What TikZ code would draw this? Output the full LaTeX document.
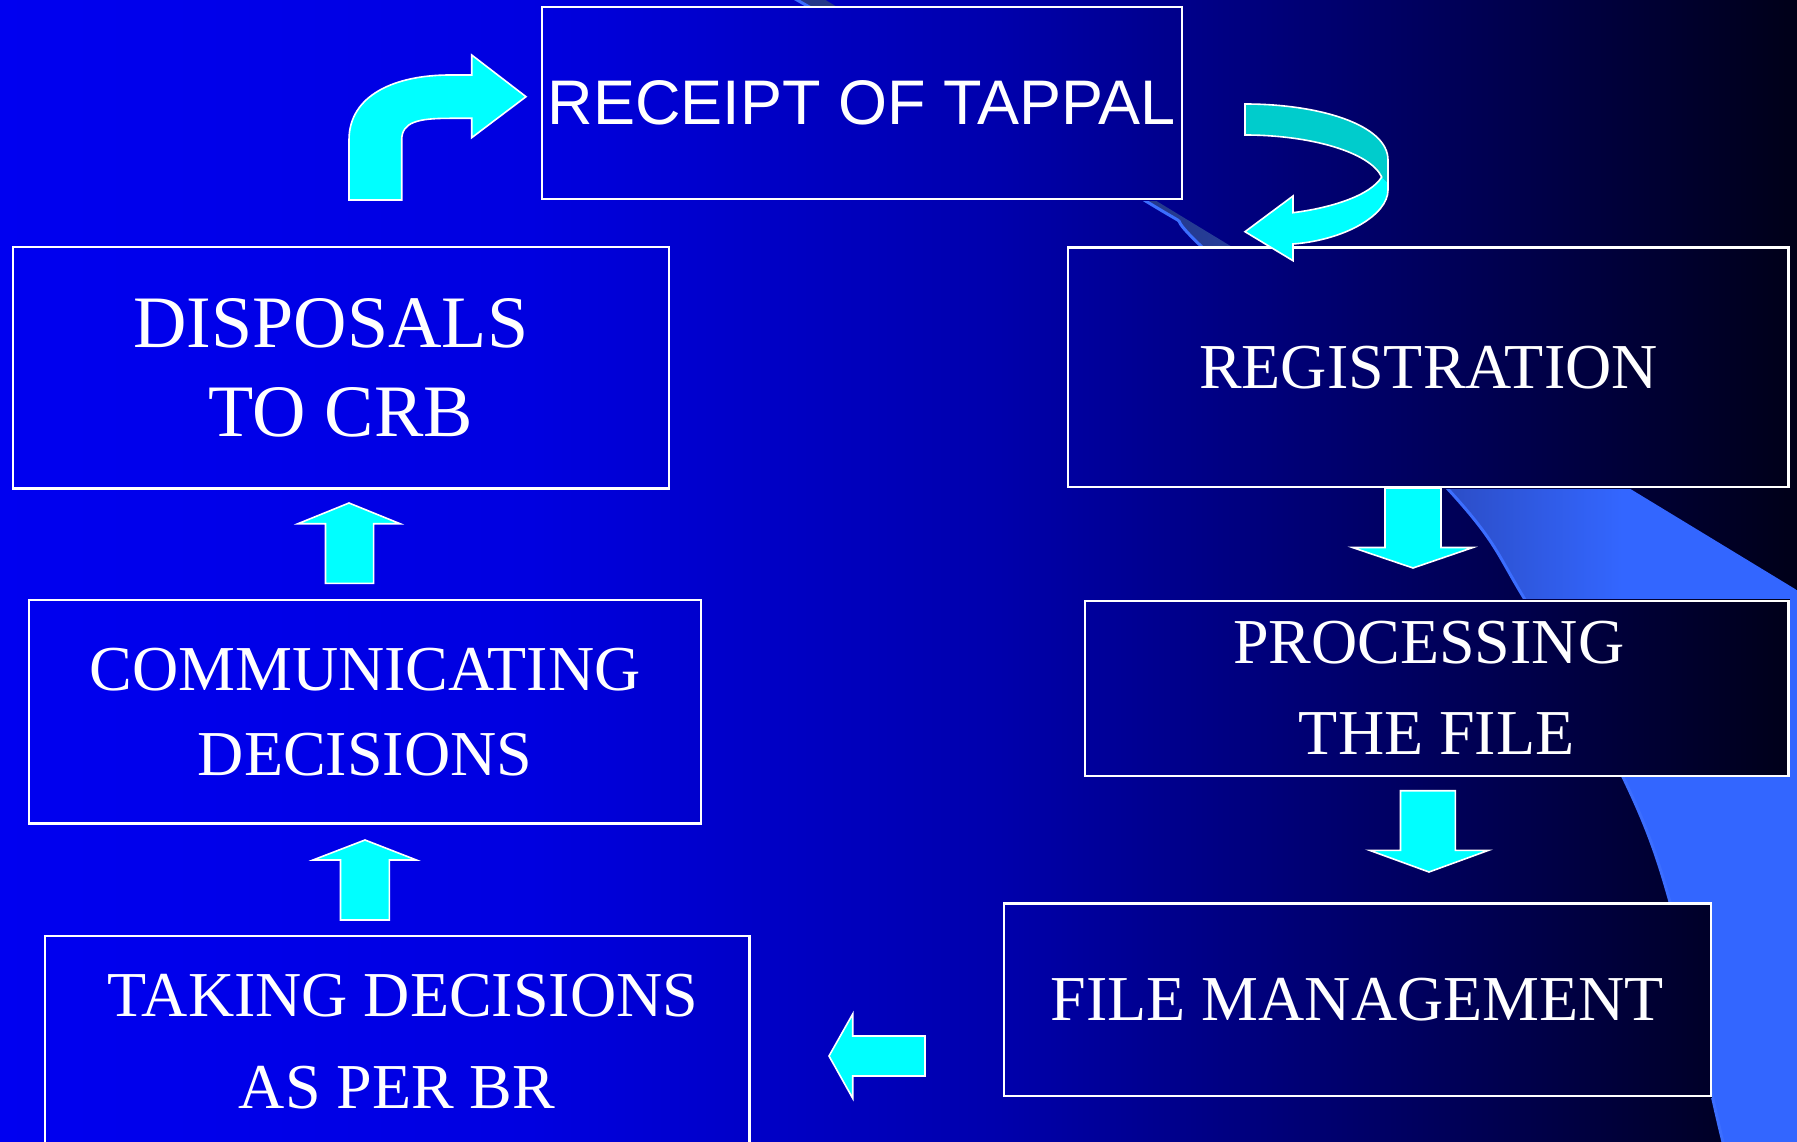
\documentclass[tikz,border=0pt]{standalone}
\usepackage{fontspec}
\setmainfont{Liberation Serif}
\newfontfamily\receiptfont{Liberation Sans}

% slide background: horizontal blue-to-navy gradient
\definecolor{bgA}{RGB}{0,0,240}
\definecolor{bgB}{RGB}{0,0,224}
\definecolor{bgC}{RGB}{0,0,172}
\definecolor{bgD}{RGB}{0,0,24}
\pgfdeclarehorizontalshading{bgshade}{100bp}{color(0bp)=(bgA); color(25bp)=(bgA); color(39.75bp)=(bgB); color(52.8bp)=(bgC); color(75bp)=(bgD); color(100bp)=(bgD)}

% decorative swoosh on the right
\definecolor{swA}{RGB}{36,56,138}
\definecolor{swB}{RGB}{44,78,200}
\definecolor{swC}{RGB}{51,102,255}
\definecolor{swEdge}{RGB}{60,110,255}
\pgfdeclarehorizontalshading{swshade}{100bp}{color(0bp)=(swA); color(42.9bp)=(swA); color(57.8bp)=(swB); color(66.2bp)=(swC); color(100bp)=(swC)}

% block arrows
\definecolor{arrowcyan}{RGB}{0,255,255}
\definecolor{tealback}{RGB}{0,204,204}

\pgfdeclarelayer{background}
\pgfsetlayers{background,main}

\begin{document}
\begin{tikzpicture}[x=1pt,y=-1pt,
  stepbox/.style={draw=white, line width=2.4pt, text=white, align=center, inner sep=0pt},
  blockarrow/.style={fill=arrowcyan, draw=white, line width=1.6pt, line join=miter, miter limit=10},
  arrowrim/.style={draw=white, line width=1.6pt, line join=miter, miter limit=10},
]
\useasboundingbox (0,0) rectangle (1797,1142);

% ---- process boxes ----
\node[stepbox, minimum width=640pt, minimum height=192pt,
      font=\receiptfont\fontsize{63}{70}\selectfont] (receipt) at (861.8,103.3) {RECEIPT OF TAPPAL};
\node[stepbox, minimum width=720.5pt, minimum height=239.5pt,
      font=\fontsize{64}{76}\selectfont] (reg) at (1428.4,367.3) {REGISTRATION};
\node[stepbox, minimum width=703.8pt, minimum height=175pt,
      font=\fontsize{64}{91}\selectfont] (proc) at (1436.7,688.2) {PROCESSING\kern16pt\\THE FILE};
\node[stepbox, minimum width=706.7pt, minimum height=192.7pt,
      font=\fontsize{64}{76}\selectfont] (fileman) at (1357.4,999.7) {FILE MANAGEMENT};
\node[stepbox, minimum width=704.4pt, minimum height=212pt,
      font=\fontsize{64}{92}\selectfont] (taking) at (397.1,1042) {\kern12pt TAKING DECISIONS\\AS PER BR};
\node[stepbox, minimum width=672.5pt, minimum height=223.3pt,
      font=\fontsize{64}{85}\selectfont] (comm) at (365,711.7) {COMMUNICATING\\DECISIONS};
\node[stepbox, minimum width=655.7pt, minimum height=241pt,
      font=\fontsize{74}{89}\selectfont] (disp) at (340.9,367.8) {DISPOSALS\kern20pt\\TO CRB};

% ---- background, swoosh and box fills ----
\begin{pgfonlayer}{background}
  \shade[shading=bgshade] (0,0) rectangle (1797,1142);
  \shade[shading=swshade]
    plot[smooth, tension=0.55] coordinates {(790,-4) (1144,200) (1202,247) (1447,488) (1524,598) (1623,777) (1670,902) (1712,1095) (1725,1150)}
    -- (1800,1150) -- (1800,592) -- (819,-4) -- cycle;
  \draw[swEdge, line width=3pt]
    plot[smooth, tension=0.55] coordinates {(790,-4) (1144,200) (1202,247) (1447,488) (1524,598) (1623,777) (1670,902) (1712,1095) (1725,1150)};
  \foreach \n in {receipt,reg,proc,fileman,taking,comm,disp}{
    \begin{scope}
      \clip (\n.south west) rectangle (\n.north east);
      \shade[shading=bgshade] (0,0) rectangle (1797,1142);
    \end{scope}
  }
\end{pgfonlayer}

% ---- bent arrow into RECEIPT OF TAPPAL ----
\draw[blockarrow] (349,200) -- (349,140) .. controls (349,95) and (395,75) .. (450,75)
  -- (471.7,75) -- (471.7,55) -- (526,96.7) -- (471.7,137.7) -- (471.7,118.3) -- (450,118.3)
  .. controls (418,118.3) and (401.7,122) .. (401.7,140) -- (401.7,200) -- cycle;

% ---- U-turn arrow from RECEIPT OF TAPPAL to REGISTRATION ----
\fill[tealback] (1245,104) .. controls (1320,104) and (1388,125) .. (1388,160)
  -- (1388,183) -- (1381.7,177) .. controls (1370,152) and (1310,135) .. (1245,135) -- cycle;
\fill[arrowcyan] (1381.7,177) -- (1388,183) -- (1388,190)
  .. controls (1388,215) and (1345,240) .. (1293,244) -- (1293,260.7) -- (1245,231.7)
  -- (1293,196) -- (1293,212.7) .. controls (1330,208) and (1370,196) .. (1381.7,177) -- cycle;
\draw[arrowrim] (1245,104) .. controls (1320,104) and (1388,125) .. (1388,160) -- (1388,190)
  .. controls (1388,215) and (1345,240) .. (1293,244) -- (1293,260.7) -- (1245,231.7)
  -- (1293,196) -- (1293,212.7) .. controls (1330,208) and (1370,196) .. (1381.7,177)
  .. controls (1370,152) and (1310,135) .. (1245,135) -- cycle;

% ---- straight flow arrows ----
\draw[blockarrow] (1385,488) -- (1385,547.5) -- (1352.5,547.5) -- (1413,568) -- (1473,547.5) -- (1441,547.5) -- (1441,488) -- cycle;
\draw[blockarrow] (1400.5,790.7) -- (1400.5,850.3) -- (1369.5,850.3) -- (1429,872) -- (1488.6,850.3) -- (1455.4,850.3) -- (1455.4,790.7) -- cycle;
\draw[blockarrow] (925,1036) -- (852.7,1036) -- (852.7,1014) -- (829,1056) -- (852.7,1098.3) -- (852.7,1076) -- (925,1076) -- cycle;
\draw[blockarrow] (340.5,920) -- (340.5,860) -- (313,860) -- (365,840) -- (416.4,860) -- (389.4,860) -- (389.4,920) -- cycle;
\draw[blockarrow] (325.5,583.3) -- (325.5,523.7) -- (298,523.7) -- (349,503) -- (400,523.7) -- (373.6,523.7) -- (373.6,583.3) -- cycle;
\end{tikzpicture}
\end{document}
